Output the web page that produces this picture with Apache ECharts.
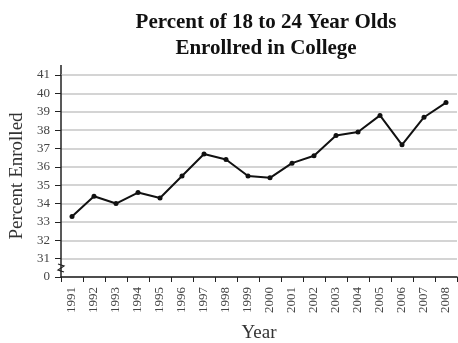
<!DOCTYPE html>
<html><head><meta charset="utf-8">
<script src="https://cdn.jsdelivr.net/npm/echarts@6/dist/echarts.min.js"></script>
<style>html,body{margin:0;padding:0;background:#fff}#c{width:458px;height:343px}</style>
</head><body><div id="c"></div>
<script>
var years = ['1991','1992','1993','1994','1995','1996','1997','1998','1999','2000','2001','2002','2003','2004','2005','2006','2007','2008'];
var percentEnrolled = [33.3,34.4,34.0,34.6,34.3,35.5,36.7,36.4,35.5,35.4,36.2,36.6,37.7,37.9,38.8,37.2,38.7,39.5];
var yTickLabels = ['0','31','32','33','34','35','36','37','38','39','40','41'];

var serif = '"Liberation Serif","DejaVu Serif",serif';
var chart = echarts.init(document.getElementById('c'));
chart.setOption({
  animation: false,
  title: {
    text: 'Percent of 18 to 24 Year Olds\nEnrollred in College',
    left: 261, top: 5, textAlign: 'center',
    textStyle: {fontFamily: serif, fontSize: 21, fontWeight: 'bold', color: '#111', lineHeight: 26}
  },
  grid: {left: 61, right: 1, top: 75, bottom: 66, containLabel: false, outerBoundsMode: 'none'},
  xAxis: {
    type: 'category', data: years, boundaryGap: true,
    name: 'Year', nameLocation: 'middle', nameGap: 47,
    nameTextStyle: {fontFamily: serif, fontSize: 19, color: '#333'},
    axisLine: {lineStyle: {color: '#222', width: 1.5}},
    axisTick: {show: true, length: 5, lineStyle: {color: '#222'}},
    axisLabel: {rotate: 90, fontFamily: serif, fontSize: 13, color: '#444', margin: 10, interval: 0}
  },
  yAxis: {
    type: 'value', min: 30, max: 41, interval: 1,
    name: 'Percent Enrolled', nameLocation: 'middle', nameGap: 33,
    nameTextStyle: {fontFamily: serif, fontSize: 19, color: '#333'},
    axisLine: {show: true, lineStyle: {color: '#222', width: 1.5}},
    axisTick: {show: true, length: 6, lineStyle: {color: '#222'}},
    axisLabel: {fontFamily: serif, fontSize: 13, color: '#444', margin: 11,
      formatter: function (v) { return yTickLabels[Math.round(v) - 30]; }},
    splitLine: {show: true, lineStyle: {color: '#d4d4d4', width: 2}}
  },
  series: [{
    type: 'line', data: percentEnrolled,
    symbol: 'circle', symbolSize: 5,
    lineStyle: {color: '#111', width: 2},
    itemStyle: {color: '#111'}
  }],
  graphic: [
    {type: 'line', shape: {x1: 61, y1: 65, x2: 61, y2: 75}, style: {stroke: '#222', lineWidth: 1.5}},
    {type: 'polyline', shape: {points: [[58, 264], [64, 266], [58, 270], [64, 272]]}, style: {stroke: '#222', lineWidth: 1.2, fill: null}}
  ]
});
</script></body></html>
